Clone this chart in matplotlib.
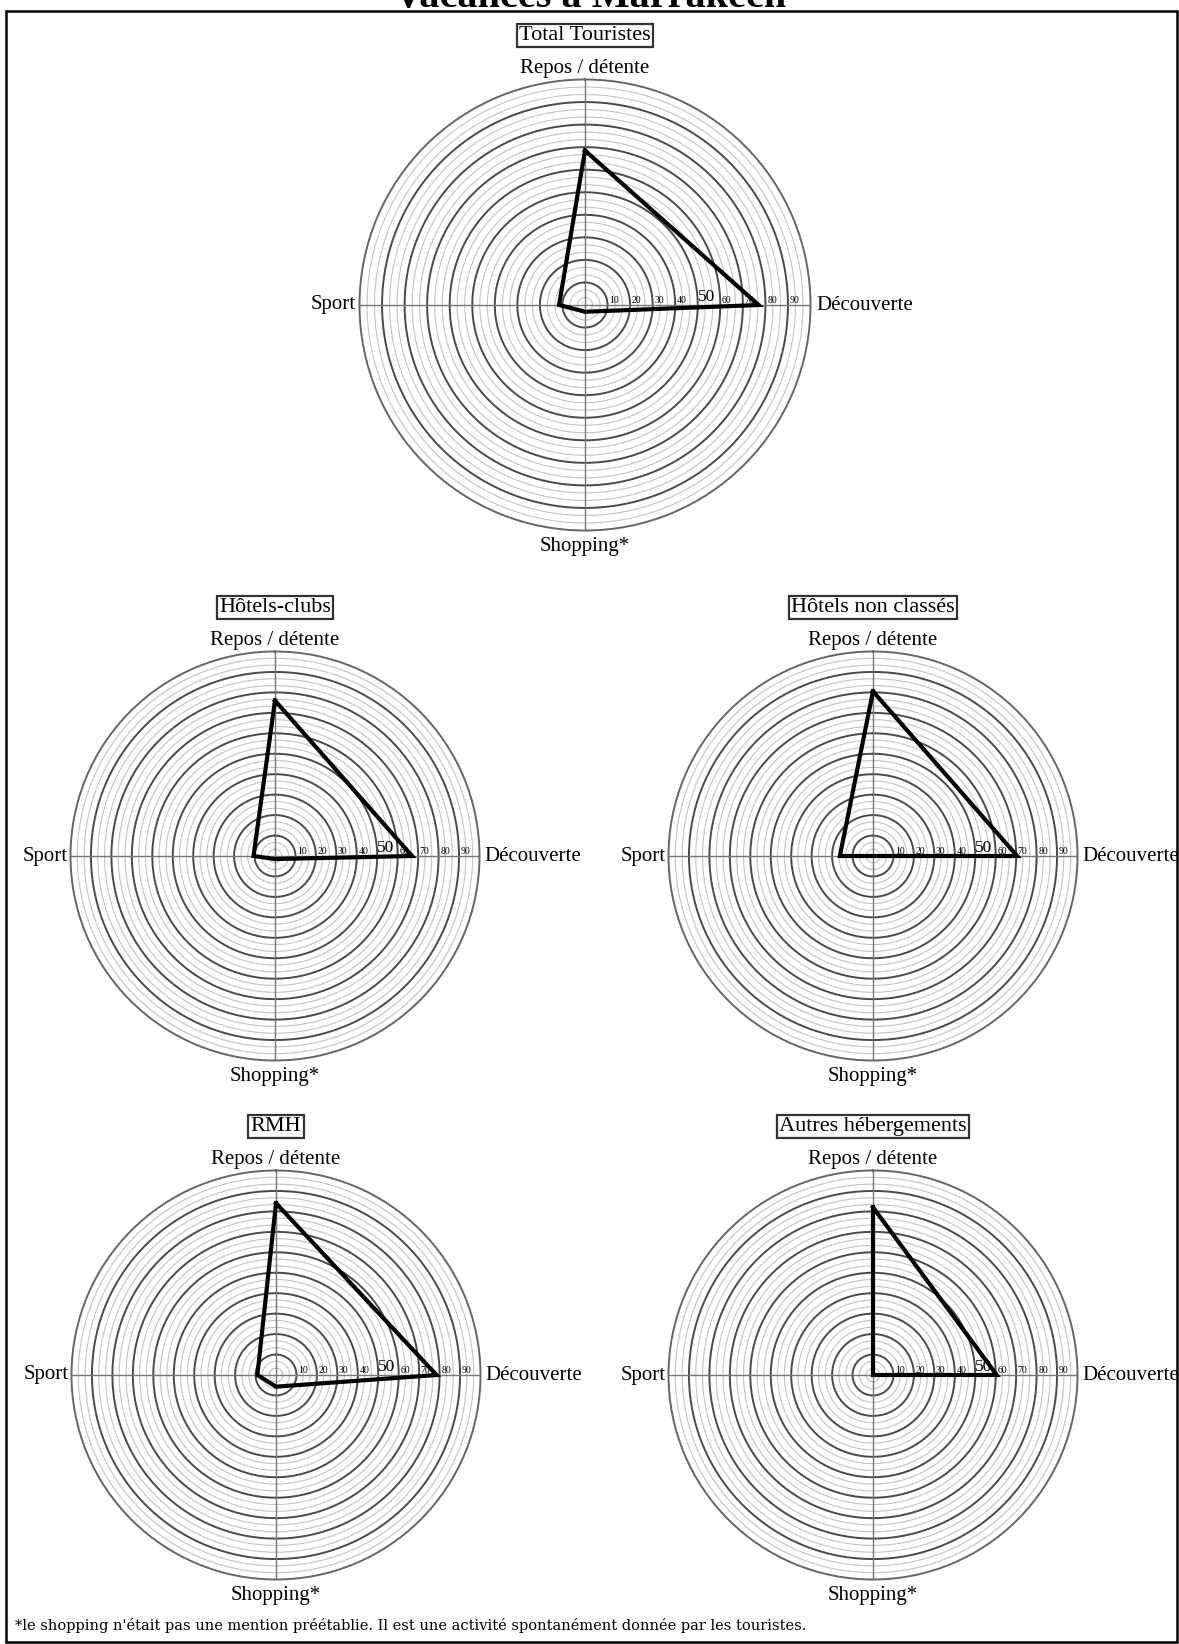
''' radar charts - vacances a Marrakech '''
import numpy as np
import matplotlib
import matplotlib.pyplot as plt
from matplotlib.patches import Rectangle

matplotlib.use('Agg')
plt.rcParams['font.family'] = ['Liberation Serif', 'DejaVu Serif']

# data
categories = ['Repos / détente', 'Découverte', 'Shopping*', 'Sport']
groups = ['Total Touristes', 'Hôtels-clubs', 'Hôtels non classés',
          'RMH', 'Autres hébergements']
repos = [68.5, 76, 80.5, 84, 82]
decouverte = [77, 67, 70.5, 78.5, 60.5]
shopping = [3, 1.5, 0, 5.7, 0]
sport = [11.5, 10.5, 16.2, 9.1, 0]
ring_ticks = [10, 20, 30, 40, 50, 60, 70, 80, 90]

W, H = 1179, 1644
# (center x, center y from top, radius) in pixels
layout = [(585, 305, 225.5), (275, 856, 204.5), (873, 856, 204.5),
          (276, 1375, 204.5), (873, 1375, 204.5)]


def radar(fig, cx, cy, rad, title, values):
    ''' one radar chart '''
    ax = fig.add_axes([(cx - rad) / W, (H - cy - rad) / H,
                       2 * rad / W, 2 * rad / H], projection='polar')
    ax.set_theta_zero_location('N')
    ax.set_theta_direction(-1)
    ax.set_ylim(0, 100)
    ax.set_yticks([])
    ax.set_thetagrids([0, 90, 180, 270], labels=['', '', '', ''])
    ax.xaxis.grid(True, color='#777777', lw=1.0)
    ax.spines['polar'].set_color('#666666')
    ax.spines['polar'].set_linewidth(1.4)
    ax.set_facecolor('white')

    th = np.linspace(0, 2 * np.pi, 361)
    for k in range(1, 30):
        r = k * 10 / 3
        if k % 3 == 0:
            ax.plot(th, np.full_like(th, r), color='#4a4a4a', lw=1.4, zorder=1)
        else:
            ax.plot(th, np.full_like(th, r), color='#c4c4c4', lw=0.8, zorder=1)

    for v in ring_ticks:
        if v == 50:
            ax.text(np.pi / 2, v, str(v), fontsize=12.5, ha='left',
                    va='bottom', zorder=2)
        else:
            ax.text(np.pi / 2, v + 0.8, str(v), fontsize=7, ha='left',
                    va='bottom', zorder=2)

    angles = np.deg2rad([0, 90, 180, 270])
    vals = list(values)
    ax.plot(np.append(angles, angles[0]), vals + vals[:1],
            color='black', lw=3, zorder=3, solid_joinstyle='miter')

    ax.text(0, 100.5, categories[0], ha='center', va='bottom', fontsize=15,
            clip_on=False)
    ax.text(np.pi / 2, 102.5, categories[1], ha='left', va='center',
            fontsize=15, clip_on=False)
    ax.text(np.pi, 103, categories[2], ha='center', va='top', fontsize=15,
            clip_on=False)
    ax.text(3 * np.pi / 2, 101.5, categories[3], ha='right', va='center',
            fontsize=15, clip_on=False)

    fig.text(cx / W, 1 - (cy - rad - 44) / H, title, ha='center',
             va='center', fontsize=16,
             bbox=dict(boxstyle='square,pad=0.1', fc='white', ec='#333333',
                       lw=1.6))


def main():
    ''' entry point '''
    fig = plt.figure(figsize=(W / 100, H / 100), dpi=100)
    fig.patch.set_facecolor('white')

    fig.add_artist(Rectangle((6 / W, 2 / H), (W - 8) / W, (H - 13) / H,
                             transform=fig.transFigure, fill=False,
                             ec='black', lw=1.8))
    fig.text(590 / W, 1 - 7 / H, 'Vacances à Marrakech', ha='center',
             va='baseline', fontsize=29, fontweight='bold')

    for i, (cx, cy, rad) in enumerate(layout):
        radar(fig, cx, cy, rad, groups[i],
              [repos[i], decouverte[i], shopping[i], sport[i]])

    fig.text(15 / W, 1 - 1625 / H,
             "*le shopping n'était pas une mention préétablie. Il est une "
             "activité spontanément donnée par les touristes.",
             ha='left', va='center', fontsize=10.5, family='DejaVu Serif')

    fig.savefig('out.png', dpi=100)


if __name__ == '__main__':
    main()
